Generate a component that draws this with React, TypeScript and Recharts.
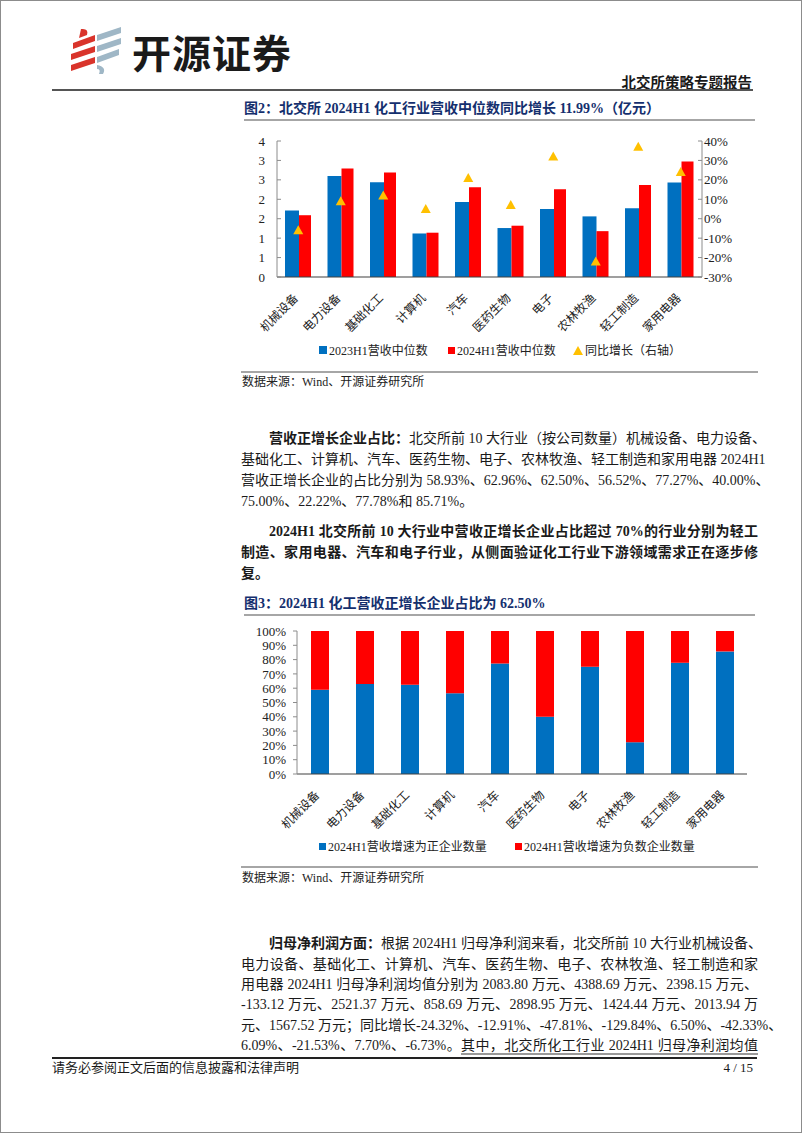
import React from "react";
import {
  ComposedChart,
  BarChart,
  Bar,
  Line,
  XAxis,
  YAxis,
} from "recharts";

const industries = ["机械设备", "电力设备", "基础化工", "计算机", "汽车", "医药生物", "电子", "农林牧渔", "轻工制造", "家用电器"];

// 图2 营收中位数（亿元）与同比增长（%）
const median2023 = [1.71, 2.6, 2.44, 1.12, 1.93, 1.26, 1.75, 1.56, 1.77, 2.43];
const median2024 = [1.59, 2.79, 2.69, 1.14, 2.31, 1.32, 2.26, 1.18, 2.37, 2.97];
const yoyGrowth = [-6, 9, 11.99, 5, 21, 7, 32, -22, 37, 24];
const leftTicks = [0, 0.5, 1, 1.5, 2, 2.5, 3, 3.5];
const rightTicks = [-30, -20, -10, 0, 10, 20, 30, 40];

// 图3 营收正/负增长企业占比（%）
const positiveShare = [58.93, 62.96, 62.5, 56.52, 77.27, 40.0, 75.0, 22.22, 77.78, 85.71];
const negativeShare = [41.07, 37.04, 37.5, 43.48, 22.73, 60.0, 25.0, 77.78, 22.22, 14.29];
const pctTicks = [0, 10, 20, 30, 40, 50, 60, 70, 80, 90, 100];
const boundaryTicks = [0, 1, 2, 3, 4, 5, 6, 7, 8, 9, 10];

const BLUE = "#0070C0";
const RED = "#FF0000";
const GOLD = "#FFC000";
const NAVY = "#142f6e";
const FONT = '"Liberation Serif", "Noto Sans CJK SC", serif';

const medianData = industries.map((name, i) => ({
  name,
  m2023: median2023[i],
  m2024: median2024[i],
  yoy: yoyGrowth[i],
}));

const shareData = industries.map((name, i) => ({
  name,
  pos: positiveShare[i],
  neg: negativeShare[i],
}));

function RotTick({ x, y, payload }: any) {
  return (
    <g transform={`translate(${x - 2},${y + 17})`}>
      <text
        textAnchor="end"
        dominantBaseline="central"
        transform="rotate(-45)"
        fontSize={12}
        fill="#222"
        fontFamily={FONT}
      >
        {payload.value}
      </text>
    </g>
  );
}

const EmptyTick = () => <g />;

function TriangleDot({ cx, cy }: any) {
  if (cx == null || cy == null) return null;
  return <polygon points={`${cx},${cy - 5} ${cx - 5},${cy + 4} ${cx + 5},${cy + 4}`} fill={GOLD} />;
}

const axisTick = { fontSize: 13, fill: "#222", fontFamily: FONT };

function Txt({
  top,
  left = 240,
  width = 517,
  justify = true,
  children,
  style,
}: {
  top: number;
  left?: number;
  width?: number;
  justify?: boolean;
  children: React.ReactNode;
  style?: React.CSSProperties;
}) {
  return (
    <div
      style={{
        position: "absolute",
        left,
        top: top - 11,
        width,
        height: 22,
        lineHeight: "22px",
        fontSize: 14,
        color: "#1a1a1a",
        whiteSpace: "nowrap",
        textAlign: justify ? "justify" : "left",
        textAlignLast: justify ? "justify" : "left",
        ...style,
      }}
    >
      {children}
    </div>
  );
}

function Rule({ top, left, width, h = 1, color = "#999" }: { top: number; left: number; width: number; h?: number; color?: string }) {
  return <div style={{ position: "absolute", left, top, width, height: h, background: color }} />;
}

function LegendItem({ left, top, mark, label }: { left: number; top: number; mark: React.ReactNode; label: string }) {
  return (
    <div style={{ position: "absolute", left, top: top - 9, height: 18, display: "flex", alignItems: "center", fontSize: 12, color: "#222", whiteSpace: "nowrap" }}>
      {mark}
      <span style={{ marginLeft: 2 }}>{label}</span>
    </div>
  );
}

const sq = (c: string, s = 8) => <span style={{ display: "inline-block", width: s, height: s, background: c }} />;

function Logo() {
  const red = "#d9342b";
  const steel = "#9fb7c6";
  return (
    <svg style={{ position: "absolute", left: 66, top: 26 }} width={60} height={48}>
      <path d="M14 2 Q22 1 20 8 L12 11 Z" fill={red} />
      <polygon points="6,16 28,8 28,14 6,22" fill={red} />
      <polygon points="4,27 28,19 28,25 4,33" fill={red} />
      <polygon points="4,38 28,30 28,36 4,44" fill={red} />
      <polygon points="30,8 54,0 54,6 30,14" fill={steel} />
      <polygon points="30,19 54,11 54,17 30,25" fill={steel} />
      <polygon points="30,30 52,22 52,28 30,36" fill={steel} />
      <path d="M30 38 Q40 40 36 47 L32 47 Q34 42 30 42 Z" fill={steel} />
    </svg>
  );
}

export default function App() {
  return (
    <div
      style={{
        position: "absolute",
        left: 0,
        top: 0,
        width: 802,
        height: 1133,
        boxSizing: "border-box",
        border: "1px solid #8c8c8c",
        background: "#fff",
        fontFamily: FONT,
        overflow: "hidden",
      }}
    >
      {/* header */}
      <Logo />
      <div style={{ position: "absolute", left: 131, top: 27, fontSize: 39, fontWeight: 700, letterSpacing: 1, color: "#1a1a1a", fontFamily: '"Noto Sans CJK SC", sans-serif', lineHeight: "46px" }}>
        开源证券
      </div>
      <div style={{ position: "absolute", right: 49, top: 72, fontSize: 14.5, fontWeight: 700, color: "#1a1a1a", lineHeight: "20px" }}>
        北交所策略专题报告
      </div>
      <Rule top={88} left={51} width={701} h={2} color="#555" />

      {/* 图2 */}
      <div style={{ position: "absolute", left: 243, top: 98, fontSize: 14, fontWeight: 700, color: NAVY, lineHeight: "20px", whiteSpace: "nowrap" }}>
        图2：北交所 2024H1 化工行业营收中位数同比增长 11.99%（亿元）
      </div>
      <Rule top={118} left={243} width={511} h={2} color="#a6a6a6" />

      <div style={{ position: "absolute", left: 240, top: 125 }}>
        <ComposedChart width={520} height={211} data={medianData} margin={{ top: 15, right: 14, left: 0, bottom: 0 }} barGap={0}>
          <XAxis
            xAxisId="grid"
            type="number"
            domain={[0, 10]}
            ticks={boundaryTicks}
            interval={0}
            tick={EmptyTick}
            axisLine={false}
            tickLine={{ stroke: "#404040" }}
            tickSize={4}
            height={0}
          />
          <XAxis
            xAxisId="cat"
            dataKey="name"
            interval={0}
            tick={<RotTick />}
            tickLine={false}
            tickSize={0}
            height={60}
            axisLine={{ stroke: "#404040", strokeWidth: 1.2 }}
          />
          <YAxis
            yAxisId="left"
            width={36}
            domain={[0, 3.5]}
            ticks={leftTicks}
            interval={0}
            tickFormatter={(v: number) => String(Math.round(v))}
            tick={axisTick}
            tickSize={-4}
            tickMargin={16}
            axisLine={{ stroke: "#8c8c8c" }}
            tickLine={{ stroke: "#8c8c8c" }}
          />
          <YAxis
            yAxisId="right"
            orientation="right"
            width={45}
            domain={[-30, 40]}
            ticks={rightTicks}
            interval={0}
            tickFormatter={(v: number) => `${v}%`}
            tick={{ ...axisTick, textAnchor: "start" }}
            tickSize={-4}
            tickMargin={6}
            axisLine={{ stroke: "#8c8c8c" }}
            tickLine={{ stroke: "#8c8c8c" }}
          />
          <Bar xAxisId="cat" yAxisId="left" dataKey="m2023" fill={BLUE} barSize={14} isAnimationActive={false} />
          <Bar xAxisId="cat" yAxisId="left" dataKey="m2024" fill={RED} barSize={12} isAnimationActive={false} />
          <Line
            xAxisId="cat"
            yAxisId="right"
            dataKey="yoy"
            stroke="none"
            dot={<TriangleDot />}
            activeDot={false}
            isAnimationActive={false}
          />
        </ComposedChart>
      </div>

      <LegendItem left={318} top={349} mark={sq(BLUE)} label="2023H1营收中位数" />
      <LegendItem left={447} top={349} mark={sq(RED, 7)} label="2024H1营收中位数" />
      <LegendItem
        left={572}
        top={349}
        mark={
          <svg width={10} height={9}>
            <polygon points="5,0 0,9 10,9" fill={GOLD} />
          </svg>
        }
        label="同比增长（右轴）"
      />
      <Rule top={370} left={240} width={517} h={2} color="#a6a6a6" />
      <div style={{ position: "absolute", left: 241, top: 372, fontSize: 12, lineHeight: "18px", color: "#222" }}>数据来源：Wind、开源证券研究所</div>

      {/* 段落1 */}
      <Txt top={438}>
        <span style={{ paddingLeft: 28, fontWeight: 700 }}>营收正增长企业占比：</span>北交所前 10 大行业（按公司数量）机械设备、电力设备、
      </Txt>
      <Txt top={459}>基础化工、计算机、汽车、医药生物、电子、农林牧渔、轻工制造和家用电器 2024H1</Txt>
      <Txt top={480}>营收正增长企业的占比分别为 58.93%、62.96%、62.50%、56.52%、77.27%、40.00%、</Txt>
      <Txt top={501} justify={false}>75.00%、22.22%、77.78%和 85.71%。</Txt>

      {/* 段落2 */}
      <Txt top={531} style={{ fontWeight: 700 }}>
        <span style={{ paddingLeft: 28 }}>2024H1 北交所前 10 大行业中营收正增长企业占比超过 70%的行业分别为轻工</span>
      </Txt>
      <Txt top={552} style={{ fontWeight: 700 }}>制造、家用电器、汽车和电子行业，从侧面验证化工行业下游领域需求正在逐步修</Txt>
      <Txt top={573} justify={false} style={{ fontWeight: 700 }}>复。</Txt>

      {/* 图3 */}
      <div style={{ position: "absolute", left: 243, top: 593, fontSize: 14, fontWeight: 700, color: NAVY, lineHeight: "20px", whiteSpace: "nowrap" }}>
        图3：2024H1 化工营收正增长企业占比为 62.50%
      </div>
      <Rule top={613} left={243} width={511} h={2} color="#a6a6a6" />

      <div style={{ position: "absolute", left: 240, top: 615 }}>
        <BarChart width={510} height={220} data={shareData} margin={{ top: 15, right: 4, left: 0, bottom: 0 }}>
          <XAxis
            xAxisId="grid"
            type="number"
            domain={[0, 10]}
            ticks={boundaryTicks}
            interval={0}
            tick={EmptyTick}
            axisLine={false}
            tickLine={{ stroke: "#404040" }}
            tickSize={4}
            height={0}
          />
          <XAxis
            xAxisId="cat"
            dataKey="name"
            interval={0}
            tick={<RotTick />}
            tickLine={false}
            tickSize={0}
            height={62}
            axisLine={{ stroke: "#404040", strokeWidth: 1.2 }}
          />
          <YAxis
            width={56}
            domain={[0, 100]}
            ticks={pctTicks}
            interval={0}
            tickFormatter={(v: number) => `${v}%`}
            tick={axisTick}
            tickSize={4}
            tickMargin={7}
            axisLine={{ stroke: "#8c8c8c" }}
            tickLine={{ stroke: "#8c8c8c" }}
          />
          <Bar xAxisId="cat" dataKey="pos" stackId="s" fill={BLUE} barSize={18} isAnimationActive={false} />
          <Bar xAxisId="cat" dataKey="neg" stackId="s" fill={RED} barSize={18} isAnimationActive={false} />
        </BarChart>
      </div>

      <LegendItem left={318} top={845} mark={sq(BLUE, 7)} label="2024H1营收增速为正企业数量" />
      <LegendItem left={514} top={845} mark={sq(RED, 7)} label="2024H1营收增速为负数企业数量" />
      <Rule top={865} left={240} width={517} h={2} color="#a6a6a6" />
      <div style={{ position: "absolute", left: 241, top: 868, fontSize: 12, lineHeight: "18px", color: "#222" }}>数据来源：Wind、开源证券研究所</div>

      {/* 段落3 */}
      <Txt top={943}>
        <span style={{ paddingLeft: 28, fontWeight: 700 }}>归母净利润方面：</span>根据 2024H1 归母净利润来看，北交所前 10 大行业机械设备、
      </Txt>
      <Txt top={964}>电力设备、基础化工、计算机、汽车、医药生物、电子、农林牧渔、轻工制造和家</Txt>
      <Txt top={984}>用电器 2024H1 归母净利润均值分别为 2083.80 万元、4388.69 万元、2398.15 万元、</Txt>
      <Txt top={1004}>-133.12 万元、2521.37 万元、858.69 万元、2898.95 万元、1424.44 万元、2013.94 万</Txt>
      <Txt top={1025}>元、1567.52 万元；同比增长-24.32%、-12.91%、-47.81%、-129.84%、6.50%、-42.33%、</Txt>
      <Txt top={1045}>
        6.09%、-21.53%、7.70%、-6.73%。
        <span style={{ textDecoration: "underline", textDecorationColor: "#999", textDecorationThickness: 2, textUnderlineOffset: 3 }}>
          其中，北交所化工行业 2024H1 归母净利润均值
        </span>
      </Txt>

      {/* footer */}
      <Rule top={1056} left={51} width={705} h={2} color="#222" />
      <div style={{ position: "absolute", left: 51, top: 1058, fontSize: 13, lineHeight: "18px", color: "#1a1a1a" }}>请务必参阅正文后面的信息披露和法律声明</div>
      <div style={{ position: "absolute", right: 48, top: 1058, fontSize: 13, lineHeight: "18px", color: "#1a1a1a" }}>4 / 15</div>
    </div>
  );
}
